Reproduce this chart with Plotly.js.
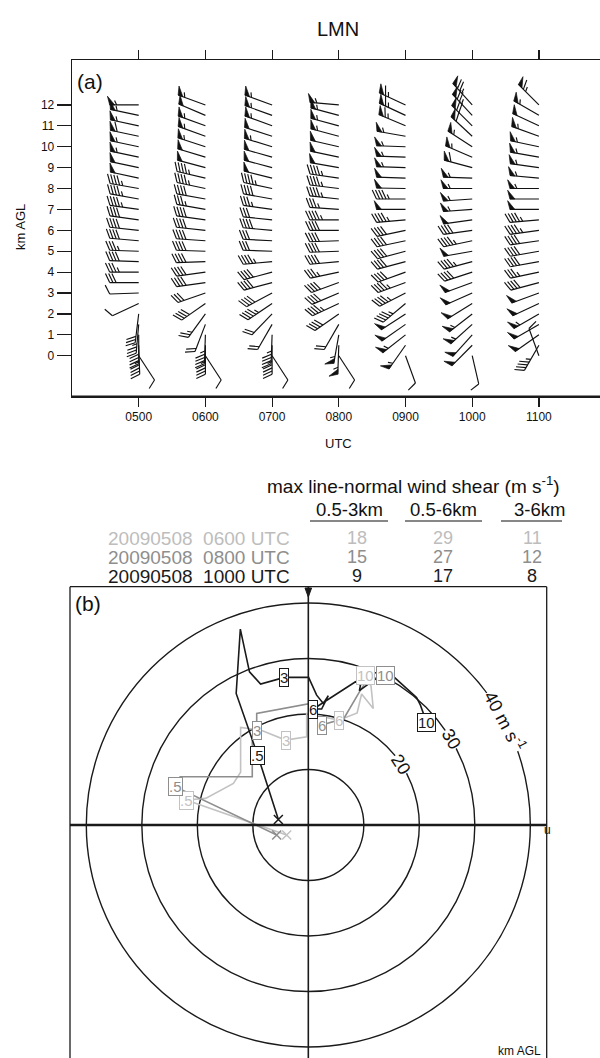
<!DOCTYPE html>
<html><head><meta charset="utf-8">
<script src="https://cdn.plot.ly/plotly-3.0.1.min.js"></script>
<style>html,body{margin:0;padding:0;background:#fff;overflow:hidden}#chart{width:600px;height:1058px}</style>
</head><body><div id="chart"></div>
<script>
// ---------------- DATA ----------------
const times = [5, 6, 7, 8, 9, 10, 11];
const timeLabels = ['0500', '0600', '0700', '0800', '0900', '1000', '1100'];
const heightTicks = [0,1,2,3,4,5,6,7,8,9,10,11,12];
const levels = [12,11.5,11,10.5,10,9.5,9,8.5,8,7.5,7,6.5,6,5.5,5,4.5,4,3.5,3,2.5,2,1.5,1,0.5,0];
// barb direction (deg, staff direction) and speed per time column, top to bottom
const dir0500=[270,282,282,282,282,282,282,282,280,280,278,278,276,275,272,272,270,270,268,245,187,185,180,178,147];
const spd0500=[55,55,55,60,55,55,50,50,45,45,45,40,40,40,35,40,35,30,10,10,30,35,40,45,10];
const dir0600=[290,293,290,290,288,287,285,283,282,280,280,278,276,274,272,268,262,262,251,235,216,201,182,180,147];
const spd0600=[55,50,55,55,55,50,50,45,45,40,35,40,40,40,40,40,40,40,30,40,25,20,45,45,10];
const dir0700=[290,290,290,288,287,286,285,284,282,280,278,276,275,273,272,265,255,255,242,236,224,210,182,180,147];
const spd0700=[55,55,55,50,55,50,50,50,45,40,35,30,40,30,30,45,40,40,40,45,20,20,45,45,10];
const dir0800=[275,285,285,285,283,282,280,278,277,276,274,270,270,268,268,265,258,250,247,245,235,210,190,182,147];
const spd0800=[55,55,55,55,50,50,50,45,45,45,35,45,40,40,40,40,35,40,40,45,40,20,55,55,10];
const dir0900=[295,295,293,280,272,272,272,272,271,270,270,265,258,258,255,255,250,250,243,230,237,235,232,215,160];
const spd0900=[65,65,65,55,55,55,55,50,50,45,50,45,40,40,40,40,40,45,45,45,50,50,55,55,10];
const dir1000=[318,317,315,313,303,293,285,272,270,266,266,262,262,258,260,255,252,250,246,238,232,228,222,225,167];
const spd1000=[75,75,70,60,55,55,60,55,55,55,55,50,40,45,50,45,40,50,50,50,55,55,50,50,10];
const dir1100=[315,300,295,290,282,280,278,275,270,270,270,265,262,262,260,260,258,255,250,245,240,240,235,210,340];
const spd1100=[65,55,50,55,55,55,55,55,55,50,50,45,45,40,40,40,35,40,50,50,55,50,50,45,10];
const barbDirs = [dir0500,dir0600,dir0700,dir0800,dir0900,dir1000,dir1100];
const barbSpds = [spd0500,spd0600,spd0700,spd0800,spd0900,spd1000,spd1100];

// hodographs (u, v in m/s) with height labels
const u0600=[-3.9,-22.0,-18.5,-13.5,-12.2,-12.2,-8.6,-4.1,-0.3,-0.3,5.5,8.8,9.6,11.7,11.3,10.3];
const v0600=[-1.8,4.5,4.8,7.5,9.5,17.6,17.1,15.3,15.9,20.1,18.9,20.2,23.6,21.0,25.0,27.0];
const l0600=['','.5','','','','','','3','','','6','','','','','10'];
const u0800=[-5.7,-24.0,-23.1,-10.1,-10.1,-9.3,-9.3,0.4,2.4,6.4,9.4,10.6,13.9];
const v0800=[-1.8,6.9,8.7,8.7,16.0,17.0,20.1,21.9,18.0,19.2,24.3,26.1,27.0];
const l0800=['','.5','','','','3','','','6','','','','10'];
const u1000=[-5.4,-9.1,-13.0,-12.25,-10.6,-8.6,-4.3,0.05,1.5,2.7,3.6,2.4,0.9,8.5,9.4,9.2,11.8,14.4,19.5,20.2,21.3];
const v1000=[1.0,12.5,23.7,35.3,27.6,25.4,26.6,26.6,23.4,21.9,23.3,20.9,20.9,25.8,25.2,24.2,26.1,27.6,23.0,21.6,18.5];
const l1000=['','.5','','','','','3','','','','','','6','','','','','','','','10'];
const hodoU=[u0600,u0800,u1000], hodoV=[v0600,v0800,v1000], hodoL=[l0600,l0800,l1000];
const hodoColors=['#c2c2c2','#8e8e8e','#1a1a1a'];
const rings=[10,20,30,40];
const ringLabels=['','20','30','40 m s<sup>-1</sup>'];
const ringLabelAngle=[0,33,31,28];

// shear table
const shearTitle='max line-normal wind shear (m s<sup>-1</sup>)';
const shearHeaders=['0.5-3km','0.5-6km','3-6km'];
const shearRows=['20090508\u00A0\u00A00600 UTC','20090508\u00A0\u00A00800 UTC','20090508\u00A0\u00A01000 UTC'];
const shear03=[18,15,9], shear06=[29,27,17], shear36=[11,12,8];
const rowColors=['#bdbdbd','#8e8e8e','#1a1a1a'];

// ---------------- LAYOUT GEOMETRY ----------------
const W=600,H=1058;
const FONT='Liberation Sans, Arial, Helvetica, sans-serif';
const px=x=>x/W, py=y=>1-y/H;
const xDomA=[px(72),1], yDomA=[py(396.7),py(60.4)];
const xRangeA=[4,4+(600-72)/66.7], yRangeA=[-1.96,14.13];
const kx=(xDomA[1]-xDomA[0])*W/(xRangeA[1]-xRangeA[0]);
const ky=(yDomA[1]-yDomA[0])*H/(yRangeA[1]-yRangeA[0]);
const xDomB=[px(70),px(546.7)], yDomB=[0,py(586.7)];
const xRangeB=[-42.94,42.95], yRangeB=[-41.98,42.94];

// ---------------- WIND BARBS ----------------
const bx=[],by=[],fx=[],fy=[];
function barb(t,h,dir,spd){
  const L=29,BL=10,FW=5,SP=3.2,ang=65*Math.PI/180;
  const r=dir*Math.PI/180;
  const d=[Math.sin(r),Math.cos(r)];
  const s=[d[1],-d[0]];
  const B=[Math.cos(ang)*d[0]+Math.sin(ang)*s[0],Math.cos(ang)*d[1]+Math.sin(ang)*s[1]];
  const FB=[0.25*d[0]+0.97*s[0],0.25*d[1]+0.97*s[1]];
  const P=(a,b)=>[t+a/kx,h+b/ky];
  const seg=(p,q)=>{bx.push(p[0],q[0],null);by.push(p[1],q[1],null);};
  seg(P(0,0),P(L*d[0],L*d[1]));
  let n=Math.round(spd/5)*5;
  const nf=Math.floor(n/50); n-=nf*50;
  const nb=Math.floor(n/10); n-=nb*10;
  const nh=n>=5?1:0;
  let pos=L;
  for(let i=0;i<nf;i++){
    const p0=[pos*d[0],pos*d[1]];
    const ap=[p0[0]+9*FB[0],p0[1]+9*FB[1]];
    const p1=[(pos-FW)*d[0],(pos-FW)*d[1]];
    [p0,ap,p1,p0].forEach(q=>{const z=P(q[0],q[1]);fx.push(z[0]);fy.push(z[1]);});
    fx.push(null);fy.push(null);
    pos-=FW+1.2;
  }
  if(nf>0 && (nb||nh)) pos-=0.8;
  for(let i=0;i<nb;i++){
    const p=[pos*d[0],pos*d[1]];
    seg(P(p[0],p[1]),P(p[0]+BL*B[0],p[1]+BL*B[1]));
    pos-=SP;
  }
  if(nh){
    if(nf===0&&nb===0) pos-=SP;
    const p=[pos*d[0],pos*d[1]];
    seg(P(p[0],p[1]),P(p[0]+0.5*BL*B[0],p[1]+0.5*BL*B[1]));
  }
}
times.forEach((t,c)=>levels.forEach((h,k)=>barb(t,h,barbDirs[c][k],barbSpds[c][k])));

const traces=[
  {x:bx,y:by,xaxis:'x',yaxis:'y',mode:'lines',line:{color:'#111',width:1.15},hoverinfo:'skip',showlegend:false},
  {x:fx,y:fy,xaxis:'x',yaxis:'y',mode:'lines',fill:'toself',fillcolor:'#111',line:{color:'#111',width:0.7},hoverinfo:'skip',showlegend:false}
];

// ---------------- HODOGRAPH ----------------
const ann=[];
hodoU.forEach((u,i)=>{
  traces.push({x:u,y:hodoV[i],xaxis:'x2',yaxis:'y2',mode:'lines',line:{color:hodoColors[i],width:1.6},showlegend:false,hoverinfo:'skip'});
  traces.push({x:[u[0]],y:[hodoV[i][0]],xaxis:'x2',yaxis:'y2',mode:'markers',marker:{symbol:'x-thin',size:9,line:{color:hodoColors[i],width:1.5}},showlegend:false,hoverinfo:'skip'});
  hodoL[i].forEach((lab,j)=>{ if(lab) ann.push({xref:'x2',yref:'y2',x:u[j],y:hodoV[i][j],xanchor:'center',yanchor:'middle',text:lab,showarrow:false,
    font:{family:FONT,size:15,color:hodoColors[i]},bgcolor:'#fff',bordercolor:hodoColors[i],borderwidth:1,borderpad:0});});
});

const shapes=[];
rings.forEach(r=>shapes.push({type:'circle',xref:'x2',yref:'y2',x0:-r,x1:r,y0:-r,y1:r,line:{color:'#1a1a1a',width:1.4},layer:'below'}));
rings.forEach((r,i)=>{ if(ringLabels[i]){ const a=ringLabelAngle[i]*Math.PI/180;
  ann.push({xref:'x2',yref:'y2',x:r*Math.cos(a),y:r*Math.sin(a),xanchor:'center',yanchor:'middle',text:ringLabels[i],textangle:90-ringLabelAngle[i],showarrow:false,
    font:{family:FONT,size:18,color:'#111'},bgcolor:'#fff',borderpad:0});}});
// axes of hodograph
shapes.push({type:'line',xref:'x2 domain',yref:'y2',x0:0,x1:1,y0:0,y1:0,line:{color:'#1a1a1a',width:2.6}});
shapes.push({type:'line',xref:'x2',yref:'y2 domain',x0:0,x1:0,y0:0,y1:1,line:{color:'#1a1a1a',width:1.6}});
// borders panel b
shapes.push({type:'line',xref:'x2 domain',yref:'y2 domain',x0:0,x1:0,y0:0,y1:1,line:{color:'#1a1a1a',width:1.3}});
shapes.push({type:'line',xref:'x2 domain',yref:'y2 domain',x0:1,x1:1,y0:0,y1:1,line:{color:'#1a1a1a',width:1.3}});
shapes.push({type:'line',xref:'x2 domain',yref:'y2 domain',x0:0,x1:1,y0:1,y1:1,line:{color:'#1a1a1a',width:1.3}});
// v-axis arrow head at top
shapes.push({type:'path',xref:'paper',yref:'paper',path:`M ${px(305)} ${py(588)} L ${px(311.6)} ${py(588)} L ${px(308.3)} ${py(597)} Z`,fillcolor:'#1a1a1a',line:{color:'#1a1a1a',width:1}});
// thick bottom axis panel a
shapes.push({type:'line',xref:'x domain',yref:'y domain',x0:0,x1:1,y0:0,y1:0,line:{color:'#1a1a1a',width:2.6}});

const A=(x,y,text,size,opts)=>ann.push(Object.assign({xref:'paper',yref:'paper',x:px(x),y:py(y),text:text,showarrow:false,
  xanchor:'center',yanchor:'middle',font:{family:FONT,size:size,color:'#111'}},opts||{}));
A(338,28.7,'LMN',20);
A(75,82,'(a)',21,{xanchor:'left'});
A(73,603,'(b)',21,{xanchor:'left'});
A(21,227,'km AGL',13,{textangle:-90});
A(338,443,'UTC',13);
A(547,830,'u',12);
A(543,1051,'km AGL',12,{xanchor:'right'});

// shear table
const TF=19;
A(562,485,shearTitle,TF,{xanchor:'right'});
const colX=[349,443,539], valX=[357,443,532], ulX=[[310,388],[405,482],[501,562]];
shearHeaders.forEach((h,i)=>{
  A(colX[i],510,h,TF-0.5);
  shapes.push({type:'line',xref:'paper',yref:'paper',x0:px(ulX[i][0]),x1:px(ulX[i][1]),y0:py(521),y1:py(521),line:{color:'#111',width:1.2}});
});
const rowY=[538,557,576];
shearRows.forEach((r,i)=>{
  A(292,rowY[i],r,TF,{xanchor:'right',font:{family:FONT,size:TF,color:rowColors[i]}});
  [shear03[i],shear06[i],shear36[i]].forEach((v,j)=>A(valX[j],rowY[i],String(v),TF-1,{font:{family:FONT,size:TF-1,color:rowColors[i]}}));
});

const layout={
  width:W,height:H,margin:{l:0,r:0,t:0,b:0},paper_bgcolor:'#fff',plot_bgcolor:'rgba(0,0,0,0)',showlegend:false,
  font:{family:FONT,size:12,color:'#111'},
  xaxis:{domain:xDomA,range:xRangeA,anchor:'y',tickvals:times,ticktext:timeLabels,ticks:'outside',ticklen:9,tickwidth:1.2,tickcolor:'#1a1a1a',
    showline:true,linecolor:'#1a1a1a',linewidth:1.3,mirror:'ticks',showgrid:false,zeroline:false,tickfont:{family:FONT,size:12,color:'#111'}},
  yaxis:{domain:yDomA,range:yRangeA,anchor:'x',tickvals:heightTicks,ticks:'outside',ticklen:14,tickwidth:1.2,tickcolor:'#1a1a1a',
    showline:true,linecolor:'#1a1a1a',linewidth:1.3,showgrid:false,zeroline:false,tickfont:{family:FONT,size:12,color:'#111'}},
  xaxis2:{domain:xDomB,range:xRangeB,anchor:'y2',visible:false},
  yaxis2:{domain:yDomB,range:yRangeB,anchor:'x2',visible:false},
  shapes:shapes,annotations:ann
};
Plotly.newPlot('chart',traces,layout,{displayModeBar:false,staticPlot:true});
</script></body></html>
